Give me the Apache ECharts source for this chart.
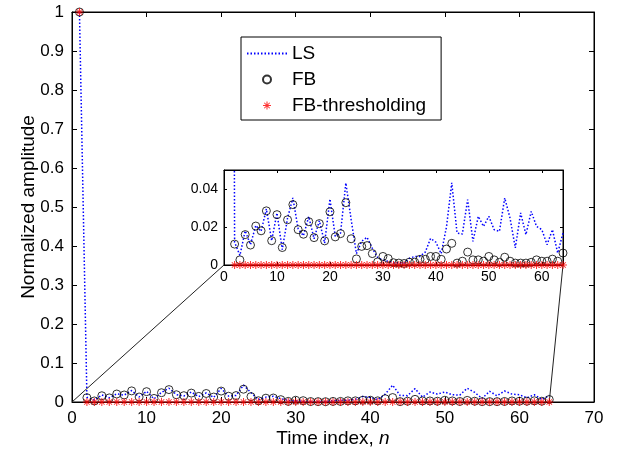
<!DOCTYPE html>
<html>
<head>
<meta charset="utf-8">
<script src="https://cdn.jsdelivr.net/npm/echarts@6/dist/echarts.min.js"></script>
<style>
  html, body { margin: 0; padding: 0; background: #fff; }
  #chart { width: 622px; height: 453px; }
</style>
</head>
<body>
<div id="chart"></div>
<script>
// 时间索引 n
var timeIndex = [1, 2, 3, 4, 5, 6, 7, 8, 9, 10, 11, 12, 13, 14, 15, 16, 17, 18, 19, 20,
  21, 22, 23, 24, 25, 26, 27, 28, 29, 30, 31, 32, 33, 34, 35, 36, 37, 38, 39, 40,
  41, 42, 43, 44, 45, 46, 47, 48, 49, 50, 51, 52, 53, 54, 55, 56, 57, 58, 59, 60,
  61, 62, 63, 64]

// LS
var lsData = [1, 0.012, 0.005, 0.018, 0.0107, 0.0208, 0.0177, 0.0295, 0.0128, 0.0274,
  0.0081, 0.0247, 0.0353, 0.019, 0.0154, 0.0255, 0.0138, 0.0233, 0.0115, 0.0347,
  0.0151, 0.0168, 0.0432, 0.024, 0.006, 0.0125, 0.0146, 0.0088, 0.004, 0.0025,
  0.002, 0.001, 0.001, 0.001, 0.0035, 0.0045, 0.0045, 0.0068, 0.014, 0.012,
  0.006, 0.02, 0.0432, 0.0168, 0.0163, 0.0344, 0.0124, 0.0256, 0.0203, 0.0256,
  0.0186, 0.0177, 0.0353, 0.0247, 0.009, 0.0274, 0.016, 0.0282, 0.0203, 0.0186,
  0.0107, 0.0186, 0.0063, 0.0168]

// FB
var fbData = [1, 0.011, 0.0027, 0.016, 0.0105, 0.0205, 0.018, 0.0285, 0.0128, 0.0265,
  0.0092, 0.0238, 0.0318, 0.0186, 0.0162, 0.0228, 0.0144, 0.0218, 0.0127, 0.028,
  0.0148, 0.0165, 0.0328, 0.0138, 0.0032, 0.0098, 0.0102, 0.006, 0.0016, 0.0045,
  0.0034, 0.0012, 0.001, 0.0008, 0.0015, 0.0015, 0.003, 0.003, 0.0045, 0.0045,
  0.003, 0.0084, 0.0114, 0.001, 0.002, 0.0068, 0.0027, 0.0027, 0.002, 0.0045,
  0.0027, 0.0014, 0.0041, 0.002, 0.001, 0.001, 0.001, 0.0014, 0.0027, 0.002,
  0.002, 0.0031, 0.002, 0.0063]

// FB-thresholding
var fbThrData = [1, 0, 0, 0, 0, 0, 0, 0, 0, 0, 0, 0, 0, 0, 0, 0, 0, 0, 0, 0,
  0, 0, 0, 0, 0, 0, 0, 0, 0, 0, 0, 0, 0, 0, 0, 0, 0, 0, 0, 0,
  0, 0, 0, 0, 0, 0, 0, 0, 0, 0, 0, 0, 0, 0, 0, 0, 0, 0, 0, 0,
  0, 0, 0, 0]

// 刻度
var mainXTicks = [0, 70, 10]
var mainYTicks = [0, 1, 0.1]
var insetXTicks = [0, 64, 10]
var insetYTicks = [0, 0.05, 0.02]

var FONT = 'Liberation Sans'
// 星号 (matlab 的 '*')
var STAR = 'path://M-0.13,-1L0.13,-1L0.13,1L-0.13,1Z M-1,-0.13L1,-0.13L1,0.13L-1,0.13Z ' +
  'M-0.78,-0.6L-0.6,-0.78L0.78,0.6L0.6,0.78Z M0.6,-0.78L0.78,-0.6L-0.6,0.78L-0.78,0.6Z'

function pairs(values) {
  return timeIndex.map(function (n, i) { return [n, values[i]] })
}

function makeSeries(xIdx, yIdx) {
  return [
    {
      name: 'LS',
      type: 'line',
      xAxisIndex: xIdx,
      yAxisIndex: yIdx,
      data: pairs(lsData),
      symbol: 'none',
      lineStyle: { color: '#0000ff', width: 1.5, type: [1.5, 2] },
      itemStyle: { color: '#0000ff' },
      z: 2
    },
    {
      name: 'FB',
      type: 'scatter',
      xAxisIndex: xIdx,
      yAxisIndex: yIdx,
      data: pairs(fbData),
      symbol: 'circle',
      symbolSize: 8,
      itemStyle: { color: 'rgba(0,0,0,0)', borderColor: '#000', borderWidth: 1 },
      z: 3
    },
    {
      name: 'FB-thresholding',
      type: 'scatter',
      xAxisIndex: xIdx,
      yAxisIndex: yIdx,
      data: pairs(fbThrData),
      symbol: STAR,
      symbolSize: 8,
      itemStyle: { color: '#ff0000' },
      z: 4
    }
  ]
}

function valueAxis(ticks, gridIndex, position, opts) {
  var axis = {
    type: 'value',
    gridIndex: gridIndex,
    position: position,
    min: ticks[0],
    max: ticks[1],
    interval: ticks[2],
    axisLine: { show: true, onZero: false, lineStyle: { color: '#000', width: 1 } },
    axisTick: { show: true, inside: true, length: opts.tickLen, lineStyle: { color: '#000' } },
    axisLabel: { show: false },
    splitLine: { show: false }
  }
  if (opts.label) {
    axis.axisLabel = {
      show: true,
      color: '#000',
      fontFamily: FONT,
      fontSize: opts.fontSize,
      margin: opts.margin,
      showMaxLabel: opts.showMax !== false,
      formatter: function (v) {
        // 只显示整刻度
        var k = Math.round((v - ticks[0]) / ticks[2])
        if (Math.abs(ticks[0] + k * ticks[2] - v) > 1e-9) return ''
        return String(+v.toFixed(4))
      }
    }
  }
  return axis
}

var chart = echarts.init(document.getElementById('chart'))

var xMain = valueAxis(mainXTicks, 0, 'bottom', { tickLen: 5, label: true, fontSize: 17, margin: 8 })
xMain.name = '{a|Time index, }{b|n}'
xMain.nameLocation = 'middle'
xMain.nameGap = 27
xMain.nameMoveOverlap = false
xMain.nameTextStyle = {
  rich: {
    a: { fontFamily: FONT, fontSize: 19, color: '#000' },
    b: { fontFamily: FONT, fontSize: 19, color: '#000', fontStyle: 'italic' }
  }
}
var yMain = valueAxis(mainYTicks, 0, 'left', { tickLen: 5, label: true, fontSize: 17, margin: 8 })
yMain.name = 'Normalized amplitude'
yMain.nameLocation = 'middle'
yMain.nameGap = 34
yMain.nameMoveOverlap = false
yMain.nameTextStyle = { fontFamily: FONT, fontSize: 19, color: '#000' }

chart.setOption({
  animation: false,
  backgroundColor: '#fff',
  grid: [
    { left: 72, top: 12, right: 28, bottom: 47, show: true, borderColor: '#000', borderWidth: 1, backgroundColor: '#fff' },
    { left: 224, top: 170, right: 59, bottom: 188, show: true, borderColor: '#000', borderWidth: 1, backgroundColor: '#fff' }
  ],
  legend: {
    data: [
      { name: 'LS', itemStyle: { color: 'rgba(0,0,0,0)', borderWidth: 0 } },
      'FB',
      'FB-thresholding'
    ],
    orient: 'vertical',
    left: 241,
    top: 37,
    itemWidth: 40,
    itemHeight: 8,
    itemGap: 7,
    padding: [7, 15, 5, 5],
    backgroundColor: '#fff',
    borderColor: '#000',
    borderWidth: 1,
    textStyle: { fontFamily: FONT, fontSize: 19, color: '#000' },
    selectedMode: false
  },
  xAxis: [
    xMain,
    valueAxis(mainXTicks, 0, 'top', { tickLen: 5 }),
    valueAxis(insetXTicks, 1, 'bottom', { tickLen: 3, label: true, fontSize: 14, margin: 5, showMax: false }),
    valueAxis(insetXTicks, 1, 'top', { tickLen: 3 })
  ],
  yAxis: [
    yMain,
    valueAxis(mainYTicks, 0, 'right', { tickLen: 5 }),
    valueAxis(insetYTicks, 1, 'left', { tickLen: 3, label: true, fontSize: 14, margin: 6, showMax: false }),
    valueAxis(insetYTicks, 1, 'right', { tickLen: 3 })
  ],
  series: makeSeries(0, 0).concat(makeSeries(2, 2))
})

// 放大框连线
var p0 = chart.convertToPixel({ xAxisIndex: 0, yAxisIndex: 0 }, [timeIndex[0] - 1, 0])
var p1 = chart.convertToPixel({ xAxisIndex: 0, yAxisIndex: 0 }, [timeIndex[timeIndex.length - 1], 0])
var q0 = chart.convertToPixel({ xAxisIndex: 2, yAxisIndex: 2 }, [insetXTicks[0], 0])
var q1 = chart.convertToPixel({ xAxisIndex: 2, yAxisIndex: 2 }, [insetXTicks[1], 0])
chart.setOption({
  graphic: [
    { type: 'line', shape: { x1: p0[0], y1: p0[1], x2: q0[0], y2: q0[1] }, style: { stroke: '#222', lineWidth: 1 }, z: 1 },
    { type: 'line', shape: { x1: p1[0], y1: p1[1], x2: q1[0], y2: q1[1] }, style: { stroke: '#222', lineWidth: 1 }, z: 1 }
  ]
})

window.addEventListener('resize', function () {
  chart.resize()
})
</script>
</body>
</html>
